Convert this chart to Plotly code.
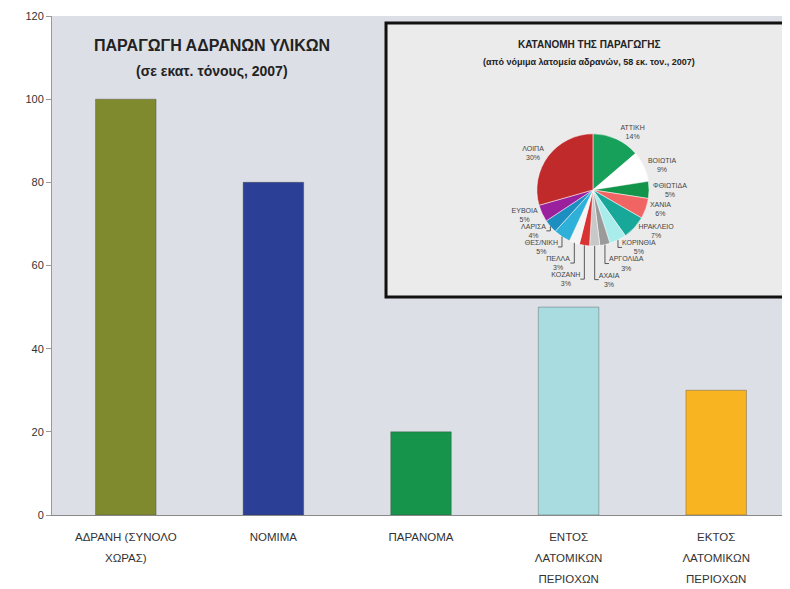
import plotly.graph_objects as go

# Bar chart data
categories = ["ΑΔΡΑΝΗ (ΣΥΝΟΛΟ<br>ΧΩΡΑΣ)", "ΝΟΜΙΜΑ", "ΠΑΡΑΝΟΜΑ",
              "ΕΝΤΟΣ<br>ΛΑΤΟΜΙΚΩΝ<br>ΠΕΡΙΟΧΩΝ", "ΕΚΤΟΣ<br>ΛΑΤΟΜΙΚΩΝ<br>ΠΕΡΙΟΧΩΝ"]
values = [100, 80, 20, 50, 30]
bar_colors = ["#7f8a2f", "#2c3f96", "#17944c", "#a9dce0", "#f9b422"]
y_ticks = [0, 20, 40, 60, 80, 100, 120]

# Pie inset data (clockwise from top)
pie_labels = ["ΑΤΤΙΚΗ", "ΒΟΙΩΤΙΑ", "ΦΘΙΩΤΙΔΑ", "ΧΑΝΙΑ", "ΗΡΑΚΛΕΙΟ", "ΚΟΡΙΝΘΙΑ",
              "ΑΡΓΟΛΙΔΑ", "ΑΧΑΙΑ", "ΚΟΖΑΝΗ", "ΠΕΛΛΑ", "ΘΕΣ/ΝΙΚΗ", "ΛΑΡΙΣΑ",
              "ΕΥΒΟΙΑ", "ΛΟΙΠΑ"]
pie_values = [14, 9, 5, 6, 7, 5, 3, 3, 3, 3, 5, 4, 5, 30]
pie_pct = ["14%", "9%", "5%", "6%", "7%", "5%", "3%", "3%", "3%", "3%",
           "5%", "4%", "5%", "30%"]
pie_colors = ["#17a05a", "#ffffff", "#12944a", "#f06464", "#17a89a", "#a8ecec",
              "#9a9a9a", "#c8c8c8", "#d83232", "#f4f4f4", "#2fb0d8", "#1c8fc0",
              "#9a209e", "#c02a2a"]

FONT = "Liberation Sans Narrow, Liberation Sans, Arial, sans-serif"

# tick text shown smaller than the tick font so the lines are spaced wider
tick_text = ["<br>".join('<span style="font-size:11.5px">%s</span>' % s
                         for s in c.split("<br>")) for c in categories]

fig = go.Figure()

fig.add_trace(go.Bar(
    x=categories, y=values,
    marker=dict(color=bar_colors, line=dict(color="rgba(60,60,60,0.35)", width=1)),
    showlegend=False,
))

fig.add_trace(go.Pie(
    labels=pie_labels, values=pie_values, text=pie_pct,
    texttemplate="%{label}<br>%{text}",
    textposition="outside",
    textfont=dict(size=7, color="#444", family=FONT),
    marker=dict(colors=pie_colors, line=dict(color="#ffffff", width=0.5)),
    sort=False, direction="clockwise", rotation=0,
    domain=dict(x=[0.657, 0.809], y=[0.539, 0.764]),
    showlegend=False, hoverinfo="label+percent",
))

fig.update_layout(
    width=782, height=581,
    margin=dict(l=44, r=0, t=8, b=74),
    paper_bgcolor="white",
    plot_bgcolor="rgba(0,0,0,0)",
    bargap=0.59,
    font=dict(family=FONT, size=11, color="#333"),
    xaxis=dict(showgrid=False, showline=True, linecolor="#888", linewidth=1,
               tickmode="array", tickvals=categories, ticktext=tick_text,
               tickfont=dict(size=16, color="#333"), ticks="outside", ticklen=6,
               tickcolor="rgba(0,0,0,0)"),
    yaxis=dict(range=[0, 120], tickvals=y_ticks, showgrid=False, showline=True,
               linecolor="#999", linewidth=1, ticks="outside", ticklen=5,
               tickcolor="#999", tickfont=dict(size=11, color="#333"), zeroline=False),
    shapes=[
        dict(type="rect", xref="paper", yref="paper", x0=0, x1=1, y0=0, y1=1,
             fillcolor="#dcdfe5", line=dict(width=0), layer="below"),
        dict(type="rect", xref="paper", yref="paper", x0=0.4526, x1=0.9946,
             y0=0.437, y1=0.986, fillcolor="#ebebeb",
             line=dict(color="#111", width=3), layer="below"),
    ],
    annotations=[
        dict(text="<b>ΠΑΡΑΓΩΓΗ ΑΔΡΑΝΩΝ ΥΛΙΚΩΝ</b>", xref="paper", yref="paper",
             x=0.217, y=0.94, xanchor="center", yanchor="middle", showarrow=False,
             font=dict(size=16, color="#222")),
        dict(text="<b>(σε εκατ. τόνους, 2007)</b>", xref="paper", yref="paper",
             x=0.217, y=0.89, xanchor="center", yanchor="middle", showarrow=False,
             font=dict(size=14, color="#222")),
        dict(text="<b>ΚΑΤΑΝΟΜΗ ΤΗΣ ΠΑΡΑΓΩΓΗΣ</b>", xref="paper", yref="paper",
             x=0.728, y=0.942, xanchor="center", yanchor="middle", showarrow=False,
             font=dict(size=10, color="#222")),
        dict(text="<b>(από νόμιμα λατομεία αδρανών, 58 εκ. τον., 2007)</b>",
             xref="paper", yref="paper", x=0.728, y=0.908, xanchor="center",
             yanchor="middle", showarrow=False, font=dict(size=9, color="#222")),
    ],
)

fig.write_html("out.html")
